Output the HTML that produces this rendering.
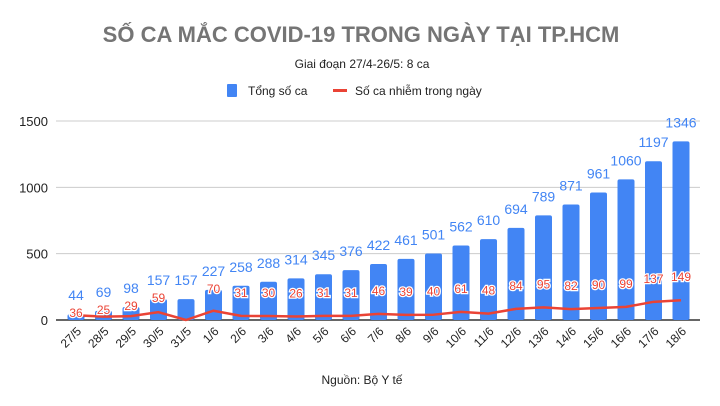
<!DOCTYPE html>
<html><head><meta charset="utf-8"><style>
body{margin:0;background:#fff;}
svg{display:block;font-family:"Liberation Sans",sans-serif;}
</style></head><body>
<svg id="c" width="720" height="406">
<text x="361" y="42" text-anchor="middle" font-size="22" font-weight="bold" fill="#757575">SỐ CA MẮC COVID-19 TRONG NGÀY TẠI TP.HCM</text>
<text x="362" y="68" text-anchor="middle" font-size="12" fill="#222">Giai đoạn 27/4-26/5: 8 ca</text>
<g>
<rect x="227" y="84" width="10" height="13" rx="1" fill="#4285f4"/>
<text x="248" y="95" font-size="12" fill="#222">Tổng số ca</text>
<rect x="333" y="89" width="14" height="3" fill="#ea4335"/>
<text x="355" y="95" font-size="12" fill="#222">Số ca nhiễm trong ngày</text>
</g>
<g id="plot"></g>
<text x="362" y="384" text-anchor="middle" font-size="12" fill="#222">Nguồn: Bộ Y tế</text>
</svg>
<script>
const categories=["27/5","28/5","29/5","30/5","31/5","1/6","2/6","3/6","4/6","5/6","6/6","7/6","8/6","9/6","10/6","11/6","12/6","13/6","14/6","15/6","16/6","17/6","18/6"];
const totals=[44,69,98,157,157,227,258,288,314,345,376,422,461,501,562,610,694,789,871,961,1060,1197,1346];
const daily=[36,25,29,59,0,70,31,30,26,31,31,46,39,40,61,48,84,95,82,90,99,137,149];
const yTicks=[0,500,1000,1500];
const NS="http://www.w3.org/2000/svg";
const g=document.getElementById('plot');
const y=v=>320-v*(199/1500);
const x=i=>76+i*(605/(categories.length-1));
function mk(t,a,txt){const e=document.createElementNS(NS,t);for(const k in a)e.setAttribute(k,a[k]);if(txt!==undefined)e.textContent=txt;g.appendChild(e);return e;}
yTicks.forEach(v=>{
 const l=mk('line',{x1:56,x2:700,y1:y(v),y2:y(v),stroke:v===0?'#333':'#ccc','stroke-width':v===0?1.5:1});
 
 
 const t=mk('text',{x:48,y:y(v)+5,'text-anchor':'end','font-size':13,fill:'#222'},String(v));
 
 
});
categories.forEach((c,i)=>{
 const b=mk('rect',{x:x(i)-8.5,y:y(totals[i]),width:17,height:320-y(totals[i]),rx:2,fill:'#4285f4'});
 
 
 const t=mk('text',{x:x(i),y:y(totals[i])-14,'text-anchor':'middle','font-size':14,fill:'#4285f4'},String(totals[i]));
 
 
 const xl=mk('text',{transform:`translate(${x(i)+6},${332}) rotate(-45)`,'text-anchor':'end','font-size':12,fill:'#222'},c);
 
 
});
const pts=daily.map((v,i)=>x(i)+','+y(v)).join(' ');
const line=mk('polyline',{points:pts,fill:'none',stroke:'#ea4335','stroke-width':2.5,'stroke-linejoin':'round'});


daily.forEach((v,i)=>{
 if(v===0)return;
 const cy=Math.max(y(v)-23,y(totals[i])-1);
 const t=mk('text',{x:x(i),y:cy+4,'text-anchor':'middle','font-size':12,fill:'#ea4335',stroke:'#fff','stroke-width':2.5,'paint-order':'stroke'},String(v));
 
 
});
</script>
</body></html>
